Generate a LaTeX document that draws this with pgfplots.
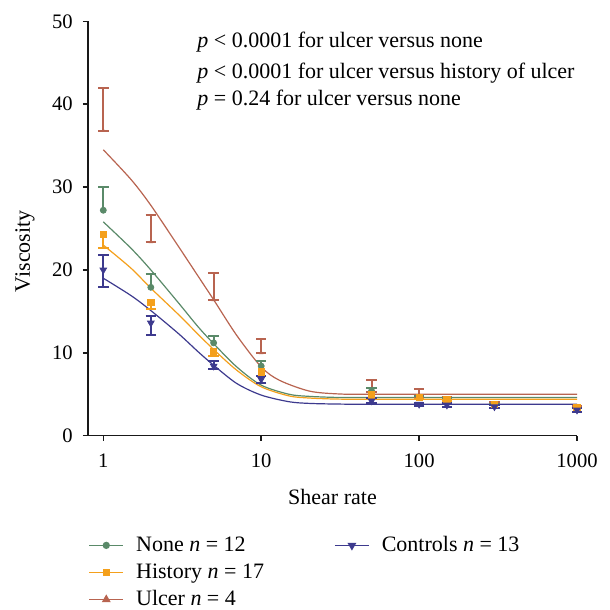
\documentclass[border=0pt]{standalone}
\usepackage{pgfplots}
\pgfplotsset{compat=1.18}
\usepackage{fontspec}
\setmainfont{Liberation Serif}
\definecolor{cNone}{RGB}{90,138,105}
\definecolor{cHist}{RGB}{244,160,28}
\definecolor{cUlc}{RGB}{184,100,80}
\definecolor{cCtl}{RGB}{61,58,142}
\newcommand{\fs}{\fontsize{11}{13.2}\selectfont}
\newcommand{\ft}{\fontsize{10.3}{12.4}\selectfont}
\begin{document}
\begin{tikzpicture}
\useasboundingbox (-44pt,-87.15pt) rectangle (261pt,217.85pt);
\clip (-44pt,-87.15pt) rectangle (261pt,217.85pt);
\begin{axis}[
  scale only axis, width=244.5pt, height=207.2pt,
  xmode=log, xmin=0.8, xmax=1000, ymin=0, ymax=50,
  axis lines=left, axis line style={-, line width=0.75pt, black!90},
  xtick={1,10,100,1000}, xticklabels={1,10,100,1000}, xminorticks=false,
  ytick={0,10,20,30,40,50},
  tick align=outside, major tick length=2.6pt,
  tick style={line width=0.75pt, black!90},
  /pgf/number format/assume math mode=true,
  tick label style={font=\ft},
  yticklabel style={xshift=-1.5pt},
  xticklabel style={yshift=-3pt},
  clip=false,
  xlabel={Shear rate}, ylabel={Viscosity},
  label style={font=\fs},
  xlabel style={at={(axis description cs:0.5,-0.147)}, anchor=center},
  ylabel style={at={(axis description cs:-0.129,0.445)}, anchor=center, rotate=0},
  legend style={draw=none, fill=none, font=\fs, inner sep=0pt,
    at={(axis description cs:0.0,-0.232)}, anchor=north west,
    row sep=0.6pt, cells={anchor=west},
    /tikz/every odd column/.append style={column sep=4pt},
    /tikz/every even column/.append style={column sep=33pt}},
  legend columns=2,
]
% legend images
\addlegendimage{cNone, line width=0.8pt, mark=*, mark size=1.4pt}
\addlegendentry{None \textit{n} = 12}
\addlegendimage{cCtl, line width=0.8pt, mark=triangle*, mark size=1.8pt, mark options={rotate=180}}
\addlegendentry{Controls \textit{n} = 13}
\addlegendimage{cHist, line width=0.8pt, mark=square*, mark size=1.4pt}
\addlegendentry{History \textit{n} = 17}
\addlegendimage{empty legend}
\addlegendentry{}
\addlegendimage{cUlc, line width=0.8pt, mark=triangle*, mark size=1.8pt}
\addlegendentry{Ulcer \textit{n} = 4}
\addlegendimage{empty legend}
\addlegendentry{}

% fitted curves
\addplot[forget plot, cUlc, line width=0.6pt, smooth] coordinates {
 (1,34.5) (1.5,30.9) (2,27.8) (3,22.8) (4,19.2) (5,16.4) (7,12.1) (10,8.3) (13,6.7) (20,5.4) (30,5.05) (50,5.0) (1000,5.0)};
\addplot[forget plot, cNone, line width=0.6pt, smooth] coordinates {
 (1,25.8) (1.5,22.6) (2,20.0) (3,16.0) (4,13.1) (5,11.1) (7,8.3) (10,6.1) (15,5.0) (20,4.75) (30,4.62) (50,4.6) (1000,4.6)};
\addplot[forget plot, cHist, line width=0.6pt, smooth] coordinates {
 (1,23.0) (1.5,20.2) (2,17.8) (3,14.6) (4,12.2) (5,10.4) (7,7.9) (10,5.9) (15,4.8) (20,4.55) (30,4.42) (50,4.4) (1000,4.4)};
\addplot[forget plot, cCtl, line width=0.6pt, smooth] coordinates {
 (1,19.0) (1.5,16.9) (2,15.1) (3,12.3) (4,10.1) (5,8.5) (7,6.3) (10,4.9) (15,4.1) (20,3.9) (30,3.82) (50,3.8) (1000,3.8)};

% data points with error bars
\addplot[forget plot, only marks, cUlc, mark=triangle*, mark size=0.9pt,
  error bars/.cd, y dir=both, y explicit,
  error bar style={line width=1pt},
  error mark options={rotate=90, mark size=2.6pt, line width=1pt}]
  table[x=x, y=y, y error plus=e, y error minus=m] {
x y e m
1 36.8 5.2 0
2 23.4 3.2 0
5 16.4 3.2 0
10 10.0 1.7 0
50 5.3 1.4 0
100 4.6 1.0 0
150 4.2 0.5 0
300 3.8 0.3 0
1000 3.4 0.2 0
};
\addplot[forget plot, only marks, cNone, mark=*, mark size=1.5pt,
  error bars/.cd, y dir=plus, y explicit,
  error bar style={line width=1pt},
  error mark options={rotate=90, mark size=2.6pt, line width=1pt}]
  table[x=x, y=y, y error=e] {
x y e
1 27.2 2.8
2 17.9 1.6
5 11.2 0.8
10 8.4 0.6
50 5.4 0.3
100 4.6 0.2
150 4.3 0.2
300 3.7 0.1
1000 3.3 0.1
};
\addplot[forget plot, only marks, cHist, mark=square*, mark size=1.6pt,
  error bars/.cd, y dir=minus, y explicit,
  error bar style={line width=1pt},
  error mark options={rotate=90, mark size=2.6pt, line width=1pt}]
  table[x=x, y=y, y error=e] {
x y e
1 24.3 1.6
2 16.1 0.8
5 10.1 0.5
10 7.7 0.5
50 4.9 0.3
100 4.6 0.2
150 4.4 0.2
300 3.8 0.1
1000 3.4 0.1
};
\addplot[forget plot, only marks, cCtl, mark=triangle*, mark size=1.9pt, mark options={rotate=180},
  error bars/.cd, y dir=both, y explicit,
  error bar style={line width=1pt},
  error mark options={rotate=90, mark size=2.6pt, line width=1pt}]
  table[x=x, y=y, y error plus=ep, y error minus=em] {
x y ep em
1 20.0 1.8 2.0
2 13.6 0.8 1.5
5 8.4 0.6 0.4
10 6.8 0.4 0.4
50 4.2 0.3 0.3
100 3.8 0.2 0.2
150 3.7 0.2 0.2
300 3.5 0.2 0.2
1000 3.1 0.2 0.2
};

% annotations
\node[anchor=base west, font=\fs, inner sep=0pt] at (rel axis cs:0.2229,0.9363) {\textit{p} < 0.0001 for ulcer versus none};
\node[anchor=base west, font=\fs, inner sep=0pt] at (rel axis cs:0.2229,0.8625) {\textit{p} < 0.0001 for ulcer versus history of ulcer};
\node[anchor=base west, font=\fs, inner sep=0pt] at (rel axis cs:0.2229,0.798) {\textit{p} = 0.24 for ulcer versus none};
\end{axis}
\end{tikzpicture}
\end{document}
